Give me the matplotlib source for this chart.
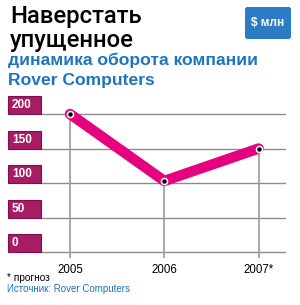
import matplotlib
matplotlib.use('Agg')
import matplotlib.pyplot as plt
from matplotlib.patches import Rectangle, FancyBboxPatch
from matplotlib.transforms import blended_transform_factory

years = ['2005', '2006', '2007*']
turnover = [200, 103, 150]
y_ticks = [0, 50, 100, 150, 200]

PINK = '#e5007d'
LABEL = '#a81c63'
BLUE = '#1f74c0'
SANS = ['Liberation Sans', 'DejaVu Sans']
TITLE = ['Roboto', 'Liberation Sans', 'DejaVu Sans']

W, H = 300, 305
fig = plt.figure(figsize=(W / 100, H / 100), dpi=100)


def fx(x):
    return x / W


def fy(y):
    return 1 - y / H


# plot area in pixels: x 41..286, y 90..258
ax = fig.add_axes([fx(41), fy(258), (286 - 41) / W, (258 - 90) / H])
ax.set_xlim(-0.3075, 2.29)
ax.set_ylim(-8.7, 234.8)
for s in ax.spines.values():
    s.set_visible(False)
ax.set_yticks([])
ax.set_xticks(range(len(years)))
ax.set_xticklabels(years, family=SANS, fontsize=8.3)
ax.tick_params(axis='x', length=0, pad=4)

for v in y_ticks:
    ax.axhline(v, color='#8c8c8c', lw=1.0, zorder=1)

trans = blended_transform_factory(ax.transAxes, ax.transData)
for v in y_ticks:
    ax.add_patch(Rectangle((-33 / 245, v), 33 / 245, 26, transform=trans,
                           facecolor=LABEL, edgecolor='#7d1049', lw=0.8,
                           clip_on=False, zorder=3))
    ax.text(-29 / 245, v + 12.5, str(v), transform=trans, ha='left', va='center',
            color='white', fontsize=8.5, fontweight='bold', family=SANS,
            zorder=4)

xs = list(range(len(years)))
ax.vlines(xs, -8.7, turnover, color='#a0a0a0', lw=1.3, zorder=2)
ax.plot(xs, turnover, color=PINK, lw=7.5, solid_capstyle='round',
        solid_joinstyle='round', clip_on=False, zorder=5)
ax.plot(xs, turnover, 'o', ms=4.5, mfc='white', mec='white', clip_on=False, zorder=6)
ax.plot(xs, turnover, 'o', ms=2.2, mfc='black', mec='black', clip_on=False, zorder=7)

# titles
fig.text(fx(10), fy(23.5), 'Наверстать', family=TITLE, fontsize=17.2,
         fontweight='medium', color='black', va='baseline')
fig.text(fx(10), fy(47), 'упущенное', family=TITLE, fontsize=17.2,
         fontweight='medium', color='black', va='baseline')
fig.text(fx(8), fy(65), 'динамика оборота компании', fontsize=12.6,
         fontweight='bold', color=BLUE, va='baseline', family=SANS)
fig.text(fx(8), fy(85), 'Rover Computers', fontsize=12.6, fontweight='bold',
         color=BLUE, va='baseline', family=SANS)

# unit badge
fig.patches.append(FancyBboxPatch((fx(245), fy(39)), (291 - 245) / W, 32 / H,
                                  boxstyle='round,pad=0,rounding_size=0.008',
                                  transform=fig.transFigure, facecolor='#2b7cc6',
                                  edgecolor='none'))
fig.text(fx(268), fy(23), '$ млн', ha='center', va='center', color='white',
         fontsize=8.5, fontweight='bold', family=SANS)

# footnotes
fig.text(fx(7), fy(278), '* прогноз', family=SANS, fontsize=7.3,
         color='black', va='center')
fig.text(fx(7), fy(289), 'Источник: Rover Computers', family=SANS,
         fontsize=7, color=BLUE, va='center')

fig.savefig('out.png', dpi=100)
